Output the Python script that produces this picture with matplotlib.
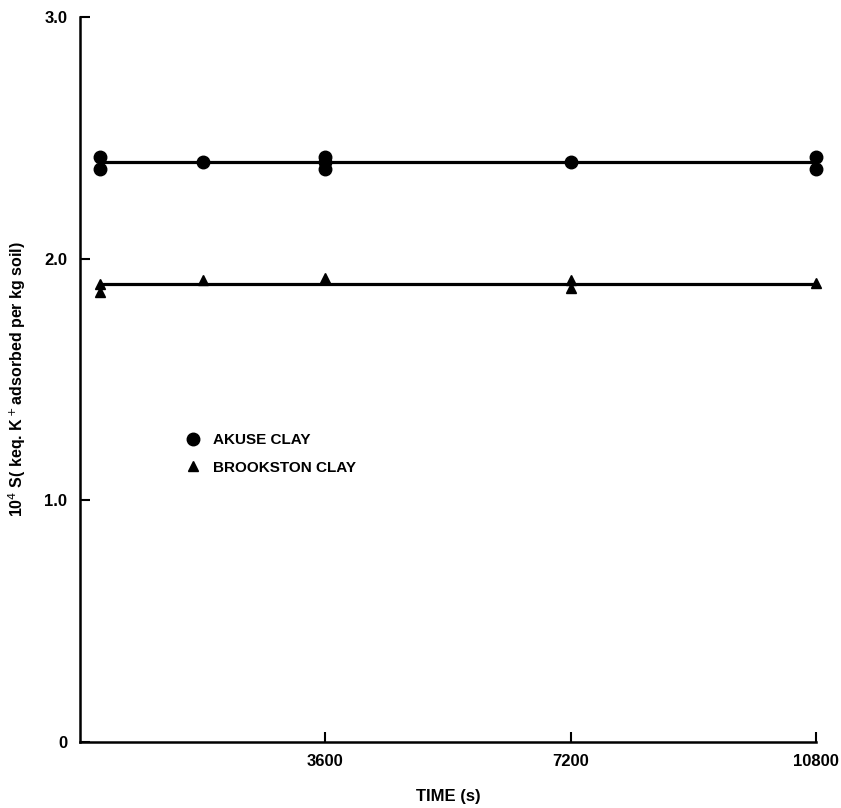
import matplotlib.pyplot as plt

# data
akuse_t = [300, 300, 1800, 3600, 3600, 3600, 7200, 10800, 10800]
akuse_s = [2.42, 2.37, 2.40, 2.42, 2.40, 2.37, 2.40, 2.42, 2.37]
brook_t = [300, 300, 1800, 3600, 7200, 7200, 10800]
brook_s = [1.895, 1.86, 1.91, 1.92, 1.91, 1.88, 1.90]

fit_t = [300, 10800]
akuse_fit = [2.40, 2.40]
brook_fit = [1.895, 1.895]

xticks = [3600, 7200, 10800]
yticks = [0, 1.0, 2.0, 3.0]
ytick_labels = ['0', '1.0', '2.0', '3.0']

plt.rcParams['font.family'] = ['Liberation Sans', 'DejaVu Sans']

fig = plt.figure(figsize=(8.41, 8.08), dpi=100)
ax = fig.add_axes([0.0951, 0.082, 0.875, 0.897])

ax.plot(fit_t, akuse_fit, color='black', lw=2.3, solid_capstyle='butt')
ax.plot(fit_t, brook_fit, color='black', lw=2.3, solid_capstyle='butt')
ax.plot(akuse_t, akuse_s, 'o', color='black', ms=9, clip_on=False, label='AKUSE CLAY')
ax.plot(brook_t, brook_s, '^', color='black', ms=6.5, clip_on=False, label='BROOKSTON CLAY')

ax.set_xlim(0, 10800)
ax.set_ylim(0, 3.0)
ax.set_xticks(xticks)
ax.set_xticklabels([str(t) for t in xticks], fontsize=12, fontweight='bold')
ax.set_yticks(yticks)
ax.set_yticklabels(ytick_labels, fontsize=12, fontweight='bold')
ax.tick_params(direction='in', length=7, width=1.5, pad=9)

for s in ['top', 'right']:
    ax.spines[s].set_visible(False)
for s in ['left', 'bottom']:
    ax.spines[s].set_linewidth(1.8)

ax.set_xlabel('TIME (s)', fontsize=12, fontweight='bold', labelpad=14)
ax.set_ylabel(r'10$^4$ S( keq. K$^+$adsorbed per kg soil)', fontsize=11.5,
              fontweight='bold')
ax.yaxis.set_label_coords(-0.07, 0.5)

ax.legend(loc='upper left', bbox_to_anchor=(0.125, 0.445), frameon=False,
          handlelength=1.0, handletextpad=0.8, labelspacing=0.9,
          prop={'weight': 'bold', 'size': 11})

fig.savefig('out.png', dpi=100)
